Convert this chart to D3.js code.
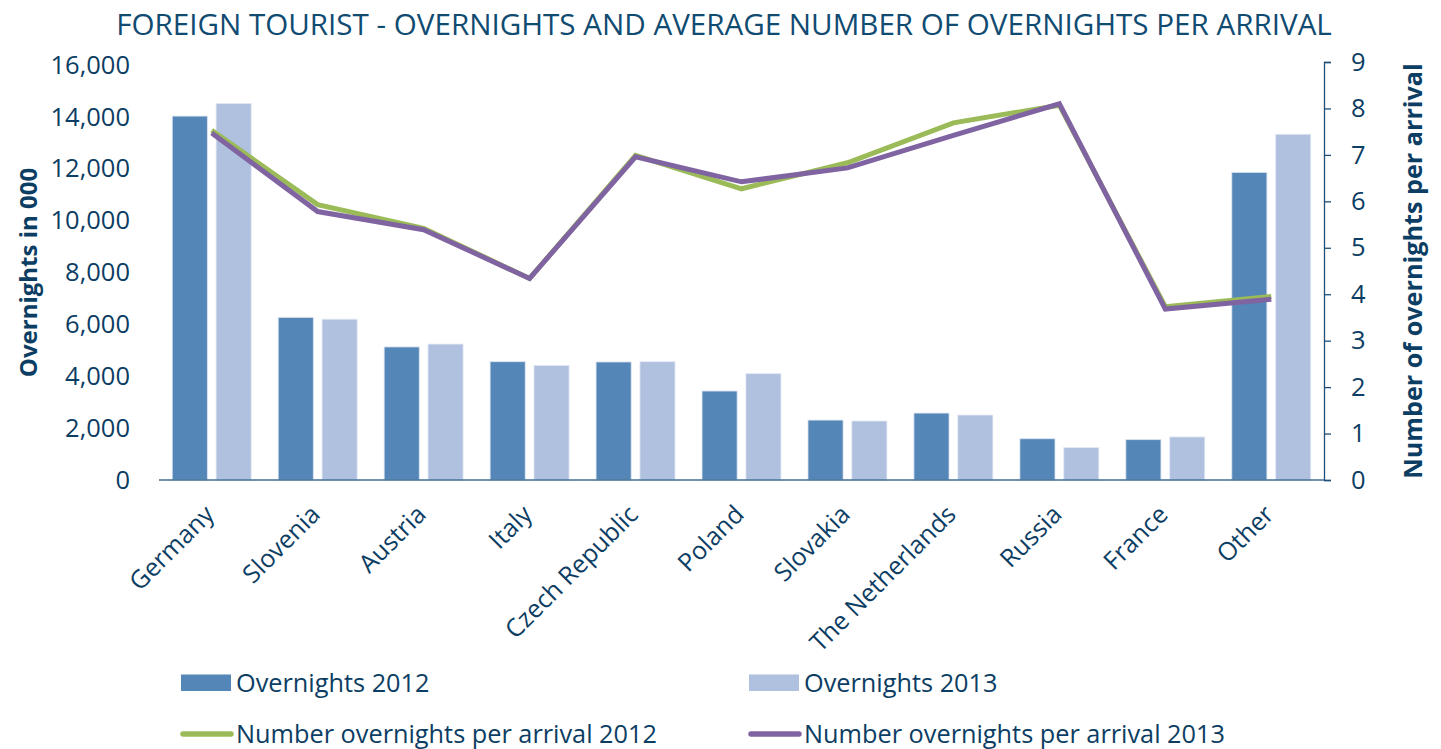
<!DOCTYPE html>
<html><head><meta charset="utf-8">
<script src="https://cdn.jsdelivr.net/npm/d3@7"></script>
<style>
html,body{margin:0;padding:0;background:#fff;}
text{font-family:"Open Sans",sans-serif;}
</style></head>
<body>
<svg id="chart" width="1441" height="749"></svg>
<script>
const categories = ["Germany","Slovenia","Austria","Italy","Czech Republic","Poland","Slovakia","The Netherlands","Russia","France","Other"];
const overnights2012 = [14030, 6270, 5130, 4560, 4550, 3430, 2310, 2580, 1590, 1555, 11860];
const overnights2013 = [14520, 6200, 5240, 4420, 4560, 4100, 2275, 2505, 1250, 1660, 13330];
const perArrival2012 = [7.53, 5.93, 5.42, 4.34, 6.99, 6.27, 6.83, 7.69, 8.07, 3.73, 3.95];
const perArrival2013 = [7.47, 5.78, 5.39, 4.34, 6.96, 6.42, 6.72, 7.42, 8.10, 3.68, 3.89];
const leftTicks = [0,2000,4000,6000,8000,10000,12000,14000,16000];
const rightTicks = [0,1,2,3,4,5,6,7,8,9];

const textColor = "#0c3d63";
const titleColor = "#104b72";
const c2012 = "#5586b8", c2013 = "#b0c0df";
const lGreen = "#9bbb59", lPurple = "#8064a2";

const svg = d3.select("#chart");
const x0 = 159, x1 = 1324, yBase = 480;

const x = d3.scaleBand().domain(categories).range([x0, x1]).paddingInner(0.255).paddingOuter(0.125);
const xs = d3.scaleBand().domain(["2012","2013"]).range([0, x.bandwidth()]).paddingInner(0.2);
const yL = d3.scaleLinear().domain([0,16000]).range([yBase, 65]);
const yR = d3.scaleLinear().domain([0,9]).range([yBase, 62]);

// title
svg.append("text").attr("x", 724).attr("y", 35).attr("text-anchor","middle")
  .attr("fill", titleColor).attr("font-size", 29.6).text("FOREIGN TOURIST - OVERNIGHTS AND AVERAGE NUMBER OF OVERNIGHTS PER ARRIVAL");

// left axis (labels only)
const gl = svg.append("g").attr("transform", `translate(${x0},0)`)
  .call(d3.axisLeft(yL).tickValues(leftTicks).tickFormat(d3.format(",")).tickSize(0).tickPadding(29));
gl.select(".domain").remove();
gl.selectAll("text").attr("fill", textColor).attr("font-size", 25.5).attr("font-family","Open Sans");

// right axis
const gr = svg.append("g").attr("transform", `translate(${x1},0)`)
  .call(d3.axisRight(yR).tickValues(rightTicks).tickSize(7).tickPadding(20));
gr.select(".domain").attr("stroke", "#1d4f78").attr("stroke-width", 1.3);
gr.selectAll(".tick line").attr("stroke", "#1d4f78").attr("stroke-width", 1.3);
gr.selectAll("text").attr("fill", textColor).attr("font-size", 25.5).attr("font-family","Open Sans");

// axis titles
svg.append("text").attr("transform", `translate(37,${(65+480)/2}) rotate(-90)`).attr("text-anchor","middle")
  .attr("fill", textColor).attr("font-size", 24).attr("font-weight","bold").text("Overnights in 000");
svg.append("text").attr("transform", `translate(1422,${(62+480)/2}) rotate(-90)`).attr("text-anchor","middle")
  .attr("fill", textColor).attr("font-size", 25.2).attr("font-weight","bold").text("Number of overnights per arrival");

// bars
const groups = svg.append("g").selectAll("g").data(categories).join("g")
  .attr("transform", d => `translate(${x(d)},0)`);
groups.append("rect").attr("x", xs("2012")).attr("width", xs.bandwidth())
  .attr("y", (d,i) => yL(overnights2012[i])).attr("height", (d,i) => yBase - yL(overnights2012[i]))
  .attr("fill", c2012).attr("stroke","#dbe3ef").attr("stroke-width",0.8);
groups.append("rect").attr("x", xs("2013")).attr("width", xs.bandwidth())
  .attr("y", (d,i) => yL(overnights2013[i])).attr("height", (d,i) => yBase - yL(overnights2013[i]))
  .attr("fill", c2013).attr("stroke","#e3e9f4").attr("stroke-width",0.8);

// baseline
svg.append("line").attr("x1", x0).attr("x2", x1).attr("y1", yBase).attr("y2", yBase)
  .attr("stroke", "#3f6f96").attr("stroke-width", 1.5);

// x labels
const gx = svg.append("g").attr("transform", `translate(0,${yBase})`)
  .call(d3.axisBottom(x).tickSize(0).tickPadding(0));
gx.select(".domain").remove();
gx.selectAll("text").attr("fill", textColor).attr("font-size", 25).attr("font-family","Open Sans")
  .attr("text-anchor","end").attr("dy", null)
  .attr("transform", "translate(4,36) rotate(-45)");

// lines
const cx = d => x(d) + x.bandwidth()/2;
const lineGen = arr => d3.line().x((d,i) => cx(categories[i])).y((d,i) => yR(arr[i]))(arr);
svg.append("path").attr("d", lineGen(perArrival2012)).attr("fill","none").attr("stroke", lGreen).attr("stroke-width", 5);
svg.append("path").attr("d", lineGen(perArrival2013)).attr("fill","none").attr("stroke", lPurple).attr("stroke-width", 5);

// legend
const legend = [
  {label:"Overnights 2012", type:"rect", color:c2012, x:181, y:683},
  {label:"Overnights 2013", type:"rect", color:c2013, x:749, y:683},
  {label:"Number overnights per arrival 2012", type:"line", color:lGreen, x:181, y:734},
  {label:"Number overnights per arrival 2013", type:"line", color:lPurple, x:749, y:734}
];
const lg = svg.append("g").selectAll("g").data(legend).join("g");
lg.filter(d => d.type==="rect").append("rect").attr("x", d=>d.x).attr("y", d=>d.y-8.5).attr("width", 50).attr("height", 16.5).attr("fill", d=>d.color);
lg.filter(d => d.type==="line").append("line").attr("x1", d=>d.x+2).attr("x2", d=>d.x+50).attr("y1", d=>d.y).attr("y2", d=>d.y)
  .attr("stroke", d=>d.color).attr("stroke-width", 5.5).attr("stroke-linecap","round");
lg.append("text").attr("x", d=>d.x+55).attr("y", d=>d.y+8.5).attr("fill", textColor).attr("font-size", 25.3).text(d=>d.label);
</script>
</body></html>
